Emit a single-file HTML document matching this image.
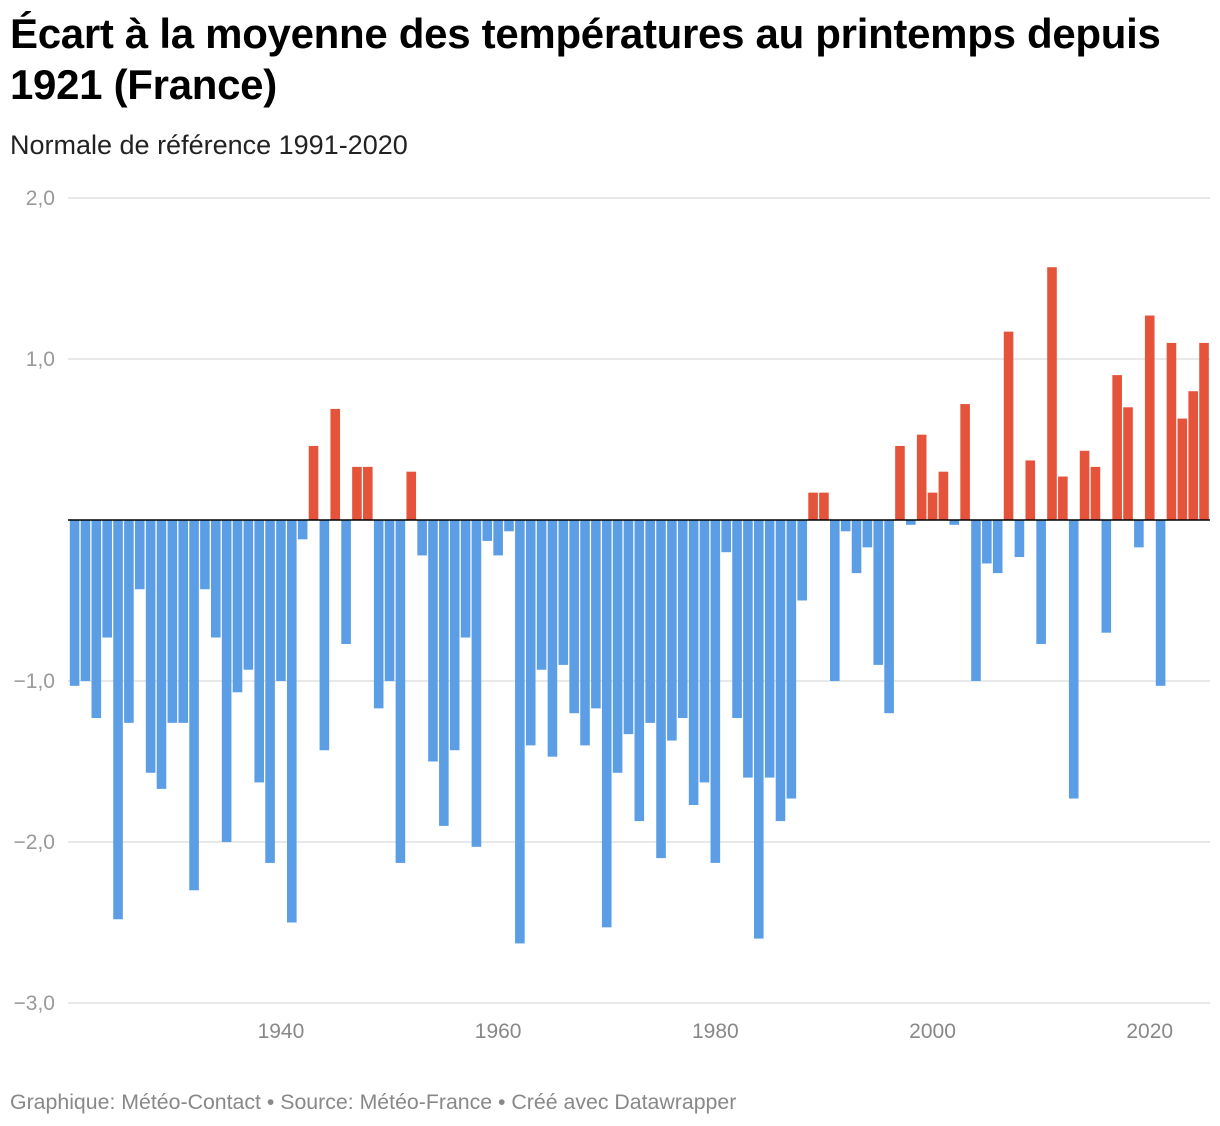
<!DOCTYPE html>
<html><head><meta charset="utf-8"><style>
body{margin:0;background:#fff;width:1220px;height:1126px;overflow:hidden;font-family:"Liberation Sans",sans-serif}
h1{position:absolute;left:10px;top:8px;margin:0;font-size:42px;line-height:51px;font-weight:bold;color:#000;letter-spacing:-0.3px}
.sub{position:absolute;left:10px;top:130px;font-size:27px;color:#222}
.foot{position:absolute;left:10px;top:1090px;font-size:21.3px;color:#888}
svg{position:absolute;left:0;top:0}
</style></head><body>
<h1>Écart à la moyenne des températures au printemps depuis<br>1921 (France)</h1>
<div class="sub">Normale de référence 1991-2020</div>
<svg id="chart" width="1220" height="1126"></svg>
<div class="foot">Graphique: Météo-Contact • Source: Météo-France • Créé avec Datawrapper</div>
<script>
const startYear = 1921;
const values = [-1.03,-1.0,-1.23,-0.73,-2.48,-1.26,-0.43,-1.57,-1.67,-1.26,-1.26,-2.3,-0.43,-0.73,-2.0,-1.07,-0.93,-1.63,-2.13,-1.0,
-2.5,-0.12,0.46,-1.43,0.69,-0.77,0.33,0.33,-1.17,-1.0,-2.13,0.3,-0.22,-1.5,-1.9,-1.43,-0.73,-2.03,-0.13,-0.22,
-0.07,-2.63,-1.4,-0.93,-1.47,-0.9,-1.2,-1.4,-1.17,-2.53,-1.57,-1.33,-1.87,-1.26,-2.1,-1.37,-1.23,-1.77,-1.63,-2.13,
-0.2,-1.23,-1.6,-2.6,-1.6,-1.87,-1.73,-0.5,0.17,0.17,-1.0,-0.07,-0.33,-0.17,-0.9,-1.2,0.46,-0.03,0.53,0.17,
0.3,-0.03,0.72,-1.0,-0.27,-0.33,1.17,-0.23,0.37,-0.77,1.57,0.27,-1.73,0.43,0.33,-0.7,0.9,0.7,-0.17,1.27,
-1.03,1.1,0.63,0.8,1.1];
const yTicks = [2,1,-1,-2,-3];
const yTickLabels = ["2,0","1,0","−1,0","−2,0","−3,0"];
const xTicks = [1940,1960,1980,2000,2020];
const NS="http://www.w3.org/2000/svg";
const svg=document.getElementById('chart');
const step=10.86, x0=74.6;
const x=yr=>x0+(yr-startYear)*step;
const y=v=>520-v*161;
function mk(t,a){const e=document.createElementNS(NS,t);for(const k in a)e.setAttribute(k,a[k]);svg.appendChild(e);return e;}
yTicks.forEach((v,i)=>{
  const l=mk('line',{x1:68,x2:1210,y1:y(v),y2:y(v),stroke:'#e0e0e0','stroke-width':1.5});
  
  
  const t=mk('text',{x:55,y:y(v)+7,'font-size':21,fill:'#999','text-anchor':'end','font-family':'Liberation Sans, sans-serif'});
  t.textContent=yTickLabels[i];
  
  
});
values.forEach((v,i)=>{
  const cx=x(startYear+i);
  const r=mk('rect',{x:cx-4.8,width:9.6,y:Math.min(y(v),y(0)),height:Math.abs(y(v)-y(0)),fill:v>=0?'#e5533b':'#5c9ee6'});
  
  
});
const z=mk('line',{x1:68,x2:1210,y1:y(0),y2:y(0),stroke:'#000','stroke-width':1.5});


xTicks.forEach(yr=>{
  const t=mk('text',{x:x(yr),y:1038,'font-size':21,fill:'#888','text-anchor':'middle','font-family':'Liberation Sans, sans-serif'});
  t.textContent=yr;
  
  
});
</script>
</body></html>
